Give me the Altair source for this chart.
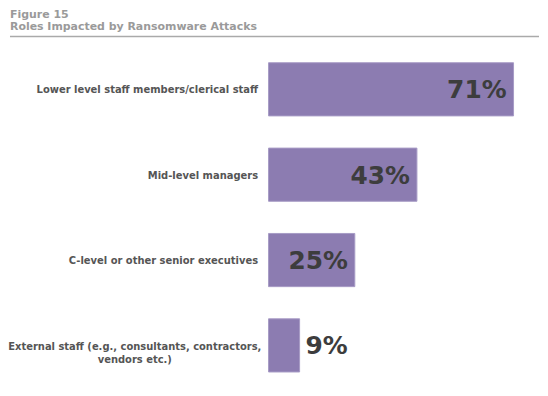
import altair as alt
import pandas as pd

categories = [
    "Lower level staff members/clerical staff",
    "Mid-level managers",
    "C-level or other senior executives",
    "External staff (e.g., consultants, contractors, vendors etc.)",
]
label_lines = [
    "Lower level staff members/clerical staff",
    "Mid-level managers",
    "C-level or other senior executives",
    "External staff (e.g., consultants, contractors,\nvendors etc.)",
]
values = [71, 43, 25, 9]
value_labels = ["71%", "43%", "25%", "9%"]
title_lines = ["Figure 15", "Roles Impacted by Ransomware Attacks"]

df = pd.DataFrame({
    "cat": categories,
    "label": label_lines,
    "value": values,
    "vlabel": value_labels,
    "multi": [("\n" in s) for s in label_lines],
})

FONT = "DejaVu Sans"
x_scale = alt.Scale(domain=[-74.93, 78.38], nice=False, zero=False)
y_enc = alt.Y("cat:N", sort=categories, axis=None,
              scale=alt.Scale(range=[51, 362], paddingInner=0.377, paddingOuter=0))

base = alt.Chart(df)

bars = base.mark_bar(color="#8c7cb1", stroke="#a79bc6", strokeWidth=1).encode(
    x=alt.X("value:Q", scale=x_scale, axis=None),
    x2=alt.datum(0),
    y=y_enc,
)

vals_in = base.transform_filter("datum.value >= 20").mark_text(
    align="right", baseline="middle", dx=-7, dy=1,
    font=FONT, fontWeight="bold", fontSize=25, color="#3d3d3d",
).encode(x=alt.X("value:Q", scale=x_scale), y=y_enc, text="vlabel:N")

vals_out = base.transform_filter("datum.value < 20").mark_text(
    align="left", baseline="middle", dx=6, dy=1,
    font=FONT, fontWeight="bold", fontSize=25, color="#3d3d3d",
).encode(x=alt.X("value:Q", scale=x_scale), y=y_enc, text="vlabel:N")

labels_single = base.transform_filter("!datum.multi").mark_text(
    align="right", baseline="middle", dy=1,
    font=FONT, fontWeight="bold", fontSize=10, color="#555555",
).encode(x=alt.value(249.5), y=y_enc, text="label:N")

labels_multi = base.transform_filter("datum.multi").mark_text(
    align="center", baseline="middle", dy=2, lineBreak="\n", lineHeight=12.5,
    font=FONT, fontWeight="bold", fontSize=10, color="#555555",
).encode(x=alt.value(125.5), y=y_enc, text="label:N")

tdf = pd.DataFrame({"t": title_lines, "i": [0, 1]})
title1 = alt.Chart(tdf).transform_filter("datum.i == 0").mark_text(
    align="left", baseline="alphabetic", font=FONT, fontWeight="bold",
    fontSize=11, color="#9a9a9a",
).encode(x=alt.value(0), y=alt.value(6), text="t:N")
title2 = alt.Chart(tdf).transform_filter("datum.i == 1").mark_text(
    align="left", baseline="alphabetic", font=FONT, fontWeight="bold",
    fontSize=11, color="#9a9a9a",
).encode(x=alt.value(0), y=alt.value(18), text="t:N")

rule = alt.Chart(tdf).transform_filter("datum.i == 0").mark_rule(
    color="#aaaaaa", strokeWidth=1.5,
).encode(x=alt.value(0), x2=alt.value(532), y=alt.value(24.5))

chart = alt.layer(
    rule, title1, title2, bars, vals_in, vals_out, labels_single, labels_multi
).properties(
    width=532, height=368, padding=0, background="white",
).configure_view(stroke=None)

chart.save("out.html", embed_options={"renderer": "svg", "actions": False})
